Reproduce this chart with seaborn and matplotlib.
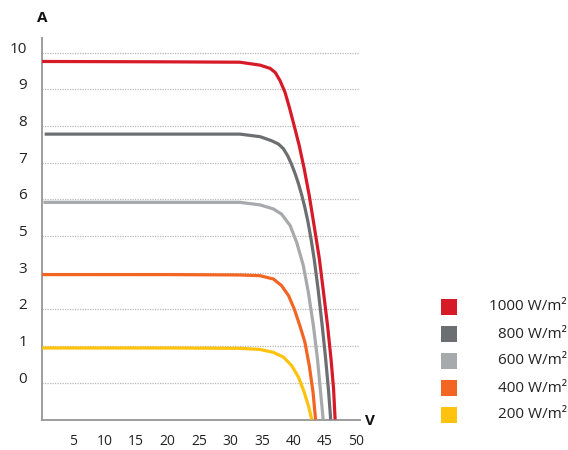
import numpy as np
import pandas as pd
import matplotlib
matplotlib.use("Agg")
import matplotlib.pyplot as plt
import matplotlib.transforms as mtransforms
from matplotlib.patches import Rectangle
import seaborn as sns

# I-V characteristic curves of a PV module at different irradiance levels
irradiance = ["1000 W/m²", "800 W/m²", "600 W/m²", "400 W/m²", "200 W/m²"]
colors = ["#d71a28", "#6d6e71", "#a7a9ac", "#f26522", "#ffc20e"]

v_1000 = [0.1, 20.0, 31.5, 34.7, 36.3, 37.1, 37.85, 38.65, 39.4, 40.1, 40.9, 41.7, 42.5,
          43.3, 44.1, 44.7, 45.4, 45.95, 46.35, 46.6]
i_1000 = [9.76, 9.75, 9.74, 9.66, 9.57, 9.46, 9.24, 8.92, 8.47, 8.01, 7.47, 6.83, 6.10,
          5.25, 4.38, 3.55, 2.56, 1.65, 0.85, 0.0]

v_800 = [0.5, 20.0, 31.5, 34.7, 36.5, 37.6, 38.4, 39.1, 39.7, 40.3, 40.8, 41.3, 41.8,
         42.3, 42.8, 43.3, 43.9, 44.55, 45.1, 45.55, 45.9]
i_800 = [7.78, 7.78, 7.78, 7.71, 7.60, 7.51, 7.38, 7.18, 6.95, 6.68, 6.42, 6.12, 5.78,
         5.38, 4.90, 4.35, 3.55, 2.56, 1.65, 0.80, 0.0]

v_600 = [0.3, 20.0, 31.5, 34.7, 36.8, 38.1, 38.8, 39.45, 40.5, 41.55, 42.35, 43.15,
         43.8, 44.3, 44.7]
i_600 = [5.92, 5.92, 5.92, 5.85, 5.74, 5.60, 5.44, 5.29, 4.83, 4.20, 3.47, 2.56,
         1.65, 0.74, 0.0]

v_400 = [0.1, 20.0, 31.5, 34.7, 36.8, 38.1, 39.2, 40.1, 41.0, 41.8, 42.5, 43.1, 43.5]
i_400 = [3.95, 3.95, 3.94, 3.92, 3.83, 3.65, 3.38, 3.02, 2.56, 2.11, 1.47, 0.74, 0.0]

v_200 = [0.1, 20.0, 31.5, 34.7, 36.8, 38.4, 39.7, 40.8, 41.7, 42.35, 42.9]
i_200 = [1.95, 1.95, 1.94, 1.91, 1.83, 1.70, 1.47, 1.15, 0.74, 0.38, 0.0]

x_ticks = [5, 10, 15, 20, 25, 30, 35, 40, 45, 50]
y_ticks = [1, 2, 3, 4, 5, 6, 7, 8, 9, 10]
y_tick_labels = ["0", "1", "2", "3", "5", "6", "7", "8", "9", "10"]

frames = []
for name, v, i in zip(irradiance,
                      [v_1000, v_800, v_600, v_400, v_200],
                      [i_1000, i_800, i_600, i_400, i_200]):
    frames.append(pd.DataFrame({"V": v, "I": i, "Irradiance": name}))
df = pd.concat(frames, ignore_index=True)

sns.set_style("white")
plt.rcParams["font.family"] = ["Open Sans", "DejaVu Sans"]

W, H = 568, 450
fig = plt.figure(figsize=(W / 100, H / 100), dpi=100)
left_px, right_px, top_px, bottom_px = 41.5, 360, 38, 419.5
ax = fig.add_axes([left_px / W, 1 - bottom_px / H,
                   (right_px - left_px) / W, (bottom_px - top_px) / H])

sns.lineplot(data=df, x="V", y="I", hue="Irradiance", hue_order=irradiance,
             palette=colors, estimator=None, sort=False, linewidth=2.3,
             legend=False, ax=ax, zorder=3, solid_joinstyle="round",
             solid_capstyle="butt")

ax.set_xlim(0, 50.55)
ax.set_ylim(0, 10.4)
ax.set_xlabel("")
ax.set_ylabel("")

ax.set_xticks(x_ticks)
ax.set_xticklabels([str(t) for t in x_ticks])
ax.set_yticks(y_ticks)
ax.set_yticklabels(y_tick_labels)

ax.grid(axis="y", linestyle=(0, (1, 1)), color="#b8b8b8", linewidth=0.9, zorder=0)
ax.grid(axis="x", visible=False)

for side in ["top", "right"]:
    ax.spines[side].set_visible(False)
for side in ["left", "bottom"]:
    ax.spines[side].set_color("#9d9d9d")
    ax.spines[side].set_linewidth(1.4)

ax.tick_params(axis="x", direction="out", length=6.5, width=1.0, color="#9d9d9d",
               pad=4, labelsize=10, labelcolor="#222222")
ax.tick_params(axis="y", direction="out", length=4.5, width=0.8, color="#c4c4c4",
               pad=6, labelsize=11, labelcolor="#222222")

# nudge the y labels a little above their lines
offset = mtransforms.ScaledTranslation(0, 4 / 72, fig.dpi_scale_trans)
for lab in ax.get_yticklabels():
    lab.set_transform(lab.get_transform() + offset)

fig.text(42 / W, 1 - 18 / H, "A", fontsize=11, fontweight="bold",
         ha="center", va="center", color="#111111")
fig.text(370 / W, 1 - 421 / H, "V", fontsize=11, fontweight="bold",
         ha="center", va="center", color="#111111")

# legend: coloured squares with right-aligned labels
row_y = [307, 334, 361, 388, 415]
sq = 16
for name, col, yc in zip(irradiance, colors, row_y):
    fig.patches.append(Rectangle((441 / W, 1 - (yc + sq / 2) / H), sq / W, sq / H,
                                 transform=fig.transFigure, facecolor=col,
                                 edgecolor="none"))
    fig.text(567 / W, 1 - yc / H, name, fontsize=11, ha="right", va="center",
             color="#222222")

fig.savefig("out.png", dpi=100)
